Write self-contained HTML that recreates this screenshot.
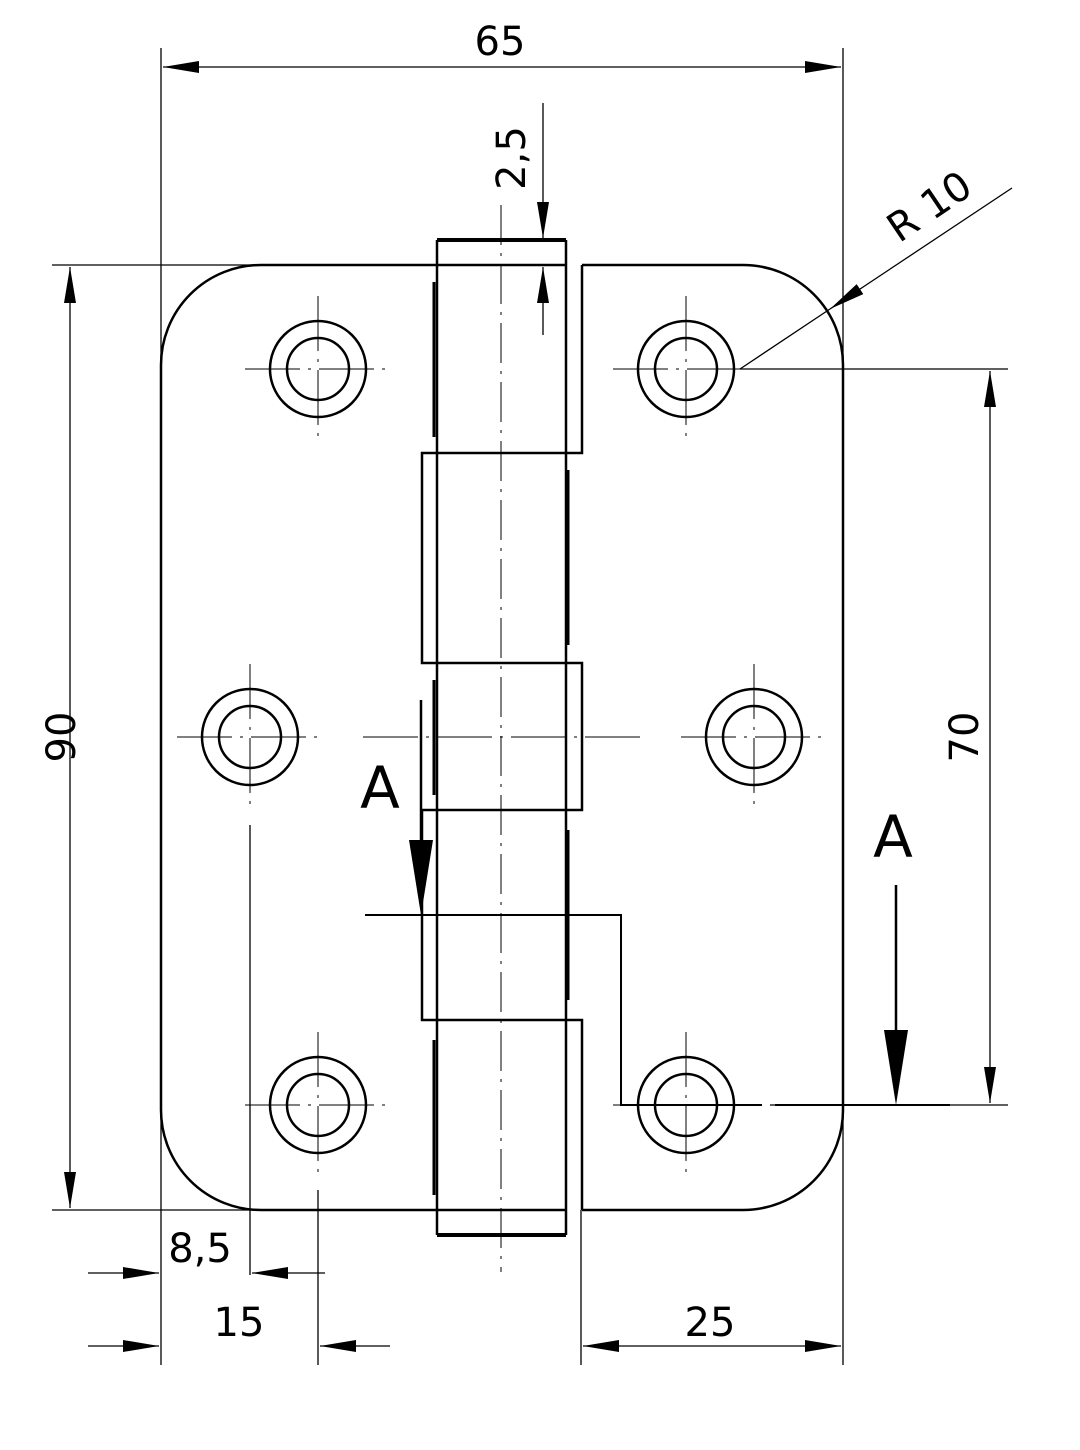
<!DOCTYPE html>
<html><head><meta charset="utf-8"><style>body{margin:0;background:#fff}svg{display:block}text{font-family:"DejaVu Sans","Liberation Sans",sans-serif;fill:#000}</style></head><body>
<svg width="1080" height="1450" viewBox="0 0 1080 1450" xmlns="http://www.w3.org/2000/svg">
<defs>
<marker id="a" viewBox="0 0 36 12" refX="36" refY="6" markerWidth="36" markerHeight="12" markerUnits="userSpaceOnUse" orient="auto-start-reverse"><path d="M0,0 L36,6 L0,12z" fill="#000"/></marker>
</defs>
<g fill="none" stroke="#000">
<path d="M437,265 H261 A100,100 0 0 0 161,365 V1110 A100,100 0 0 0 261,1210 H566" stroke-width="2.5"/>
<path d="M582,265 H743 A100,100 0 0 1 843,365 V1110 A100,100 0 0 1 743,1210 H582" stroke-width="2.5"/>
<path d="M437,240 V1235 M566,240 V1235" stroke-width="2.5"/>
<path d="M437,240 H566 M437,1235 H566" stroke-width="4"/>
<path d="M437,265 H566" stroke-width="2.5"/>
<path d="M582,265 V453 H422 V663 H582 V810 H422 V1020 H582 V1210" stroke-width="2.5"/>
<path d="M434,282 V437 M568,470 V645 M434,680 V795 M568,830 V1000 M434,1040 V1195" stroke-width="3"/>
<path d="M501,205 V1272" stroke-width="1" stroke-dasharray="40,8,3,8"/>
<g stroke-width="2.5">
<circle cx="318" cy="369" r="48"/><circle cx="318" cy="369" r="31"/>
<circle cx="686" cy="369" r="48"/><circle cx="686" cy="369" r="31"/>
<circle cx="250" cy="737" r="48"/><circle cx="250" cy="737" r="31"/>
<circle cx="754" cy="737" r="48"/><circle cx="754" cy="737" r="31"/>
<circle cx="318" cy="1105" r="48"/><circle cx="318" cy="1105" r="31"/>
<circle cx="686" cy="1105" r="48"/><circle cx="686" cy="1105" r="31"/>
</g>
<g stroke-width="1" stroke-dasharray="55,8,3,8">
<path d="M245,369 H392 M318,296 V442 M613,369 H760 M686,296 V442"/>
<path d="M177,737 H323 M250,664 V810 M681,737 H827 M754,664 V810"/>
<path d="M245,1105 H392 M318,1032 V1178 M613,1105 H621 M686,1032 V1178"/>
<path d="M363,737 H640"/>
</g>
<g stroke-width="1.3">
<path d="M161,48 V1365 M843,48 V1365"/>
<path d="M163,67 H841" marker-start="url(#a)" marker-end="url(#a)"/>
<path d="M52,265 H437 M52,1210 H261"/>
<path d="M70,267 V1208" marker-start="url(#a)" marker-end="url(#a)"/>
<path d="M740,369 H1008 M770,1105 H1008"/>
<path d="M990,371 V1103" marker-start="url(#a)" marker-end="url(#a)"/>
<path d="M830,309 L740,369"/>
<path d="M1012,188 L830,309" marker-end="url(#a)"/>
<path d="M543,103 V238" marker-end="url(#a)"/>
<path d="M543,335 V267" marker-end="url(#a)"/>
<path d="M250,825 V1275 M318,1190 V1365 M581,1210 V1365"/>
<path d="M88,1273 H159" marker-end="url(#a)"/>
<path d="M325,1273 H252" marker-end="url(#a)"/>
<path d="M88,1346 H159" marker-end="url(#a)"/>
<path d="M390,1346 H320" marker-end="url(#a)"/>
<path d="M583,1346 H841" marker-start="url(#a)" marker-end="url(#a)"/>
</g>
<path d="M365,915 H621 V1105 H762 M775,1105 H950" stroke-width="2"/>
<path d="M421,700 V840 M896,885 V1030" stroke-width="2.5"/>
<path d="M409,840 L433,840 L421,915z M884,1030 L908,1030 L896,1105z" fill="#000" stroke="none"/>
</g>
<g font-size="40">
<text x="500" y="55" text-anchor="middle">65</text>
<text x="62" y="737" text-anchor="middle" transform="rotate(-90 62 737)" dy="13">90</text>
<text x="965" y="737" text-anchor="middle" transform="rotate(-90 965 737)" dy="13">70</text>
<text x="533" y="158" text-anchor="middle" transform="rotate(-90 533 158)" dy="-8">2,5</text>
<text x="937" y="218" text-anchor="middle" transform="rotate(-34 937 218)">R  10</text>
<text x="200" y="1262" text-anchor="middle">8,5</text>
<text x="239" y="1336" text-anchor="middle">15</text>
<text x="710" y="1336" text-anchor="middle">25</text>
</g>
<g font-size="58"><text x="380" y="808" text-anchor="middle">A</text><text x="893" y="857" text-anchor="middle">A</text></g>
</svg>
</body></html>
